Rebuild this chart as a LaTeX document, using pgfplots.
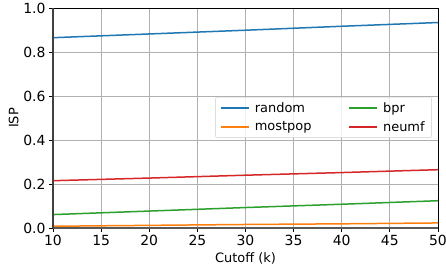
\documentclass[border=0pt]{standalone}
\usepackage{fontspec}
\setmainfont{DejaVu Sans}
\usepackage{pgfplots}
\pgfplotsset{compat=1.18}
\definecolor{c0}{HTML}{1F77B4}
\definecolor{c1}{HTML}{FF7F0E}
\definecolor{c2}{HTML}{2CA02C}
\definecolor{c3}{HTML}{D62728}
\begin{document}
\begin{tikzpicture}
\begin{axis}[
  scale only axis,
  width=385bp, height=220bp,
  xmin=10, xmax=50, ymin=0, ymax=1,
  xtick={10,15,20,25,30,35,40,45,50},
  xticklabels={10,15,20,25,30,35,40,45,50},
  ytick={0,0.2,0.4,0.6,0.8,1.0},
  yticklabels={0.0,0.2,0.4,0.6,0.8,1.0},
  tick label style={font=\fontsize{14}{16.5}\selectfont},
  xticklabel style={yshift=-0.5bp},
  yticklabel style={xshift=-0.5bp},
  xlabel style={font=\fontsize{13}{15.6}\selectfont},
  every axis y label/.style={at={(axis description cs:-0.08,0.5)}, anchor=south, rotate=90, font=\fontsize{13}{15.6}\selectfont},
  xlabel={Cutoff (k)}, ylabel={ISP},
  grid=major,
  major grid style={color=black!31, line width=0.8bp},
  tick align=outside,
  major tick length=3.5bp,
  tick style={black, line width=0.8bp},
  axis line style={black, line width=0.8bp},
  xtick pos=bottom, ytick pos=left,
  legend columns=2,
  legend cell align=left,
  legend style={at={(rel axis cs:0.984,0.502)}, anchor=east,
    draw=black!20, rounded corners=2bp, fill=white, fill opacity=0.8, text opacity=1,
    font=\fontsize{13}{15.6}\selectfont,
    row sep=3.5bp,
    /tikz/every even column/.append style={column sep=35bp},
    /tikz/every odd column/.append style={column sep=3bp},
    inner xsep=5bp, inner ysep=3bp},
  legend image code/.code={\draw[#1, line width=1.5bp] (0bp,0bp) -- (28bp,0bp);},
  every axis plot/.append style={line width=1.5bp},
  clip=false,
]
\addplot[c0] coordinates {(10,0.865) (20,0.882) (30,0.899) (40,0.917) (50,0.934)};
\addlegendentry{random}
\addplot[c2] coordinates {(10,0.061) (20,0.077) (30,0.093) (40,0.108) (50,0.124)};
\addlegendentry{bpr}
\addplot[c1] coordinates {(10,0.008) (20,0.012) (30,0.016) (40,0.019) (50,0.023)};
\addlegendentry{mostpop}
\addplot[c3] coordinates {(10,0.215) (20,0.227) (30,0.240) (40,0.252) (50,0.265)};
\addlegendentry{neumf}
\draw[black!65, line width=1.6bp] (rel axis cs:0,0) -- (rel axis cs:1,0);
\draw[black!75, line width=1.3bp] (rel axis cs:0,0) -- (rel axis cs:0,1);
\end{axis}
\pgfresetboundingbox
\path ([shift={(-53bp,-40bp)}]current axis.south west) rectangle ([shift={(393bp,228bp)}]current axis.south west);
\end{tikzpicture}
\end{document}
